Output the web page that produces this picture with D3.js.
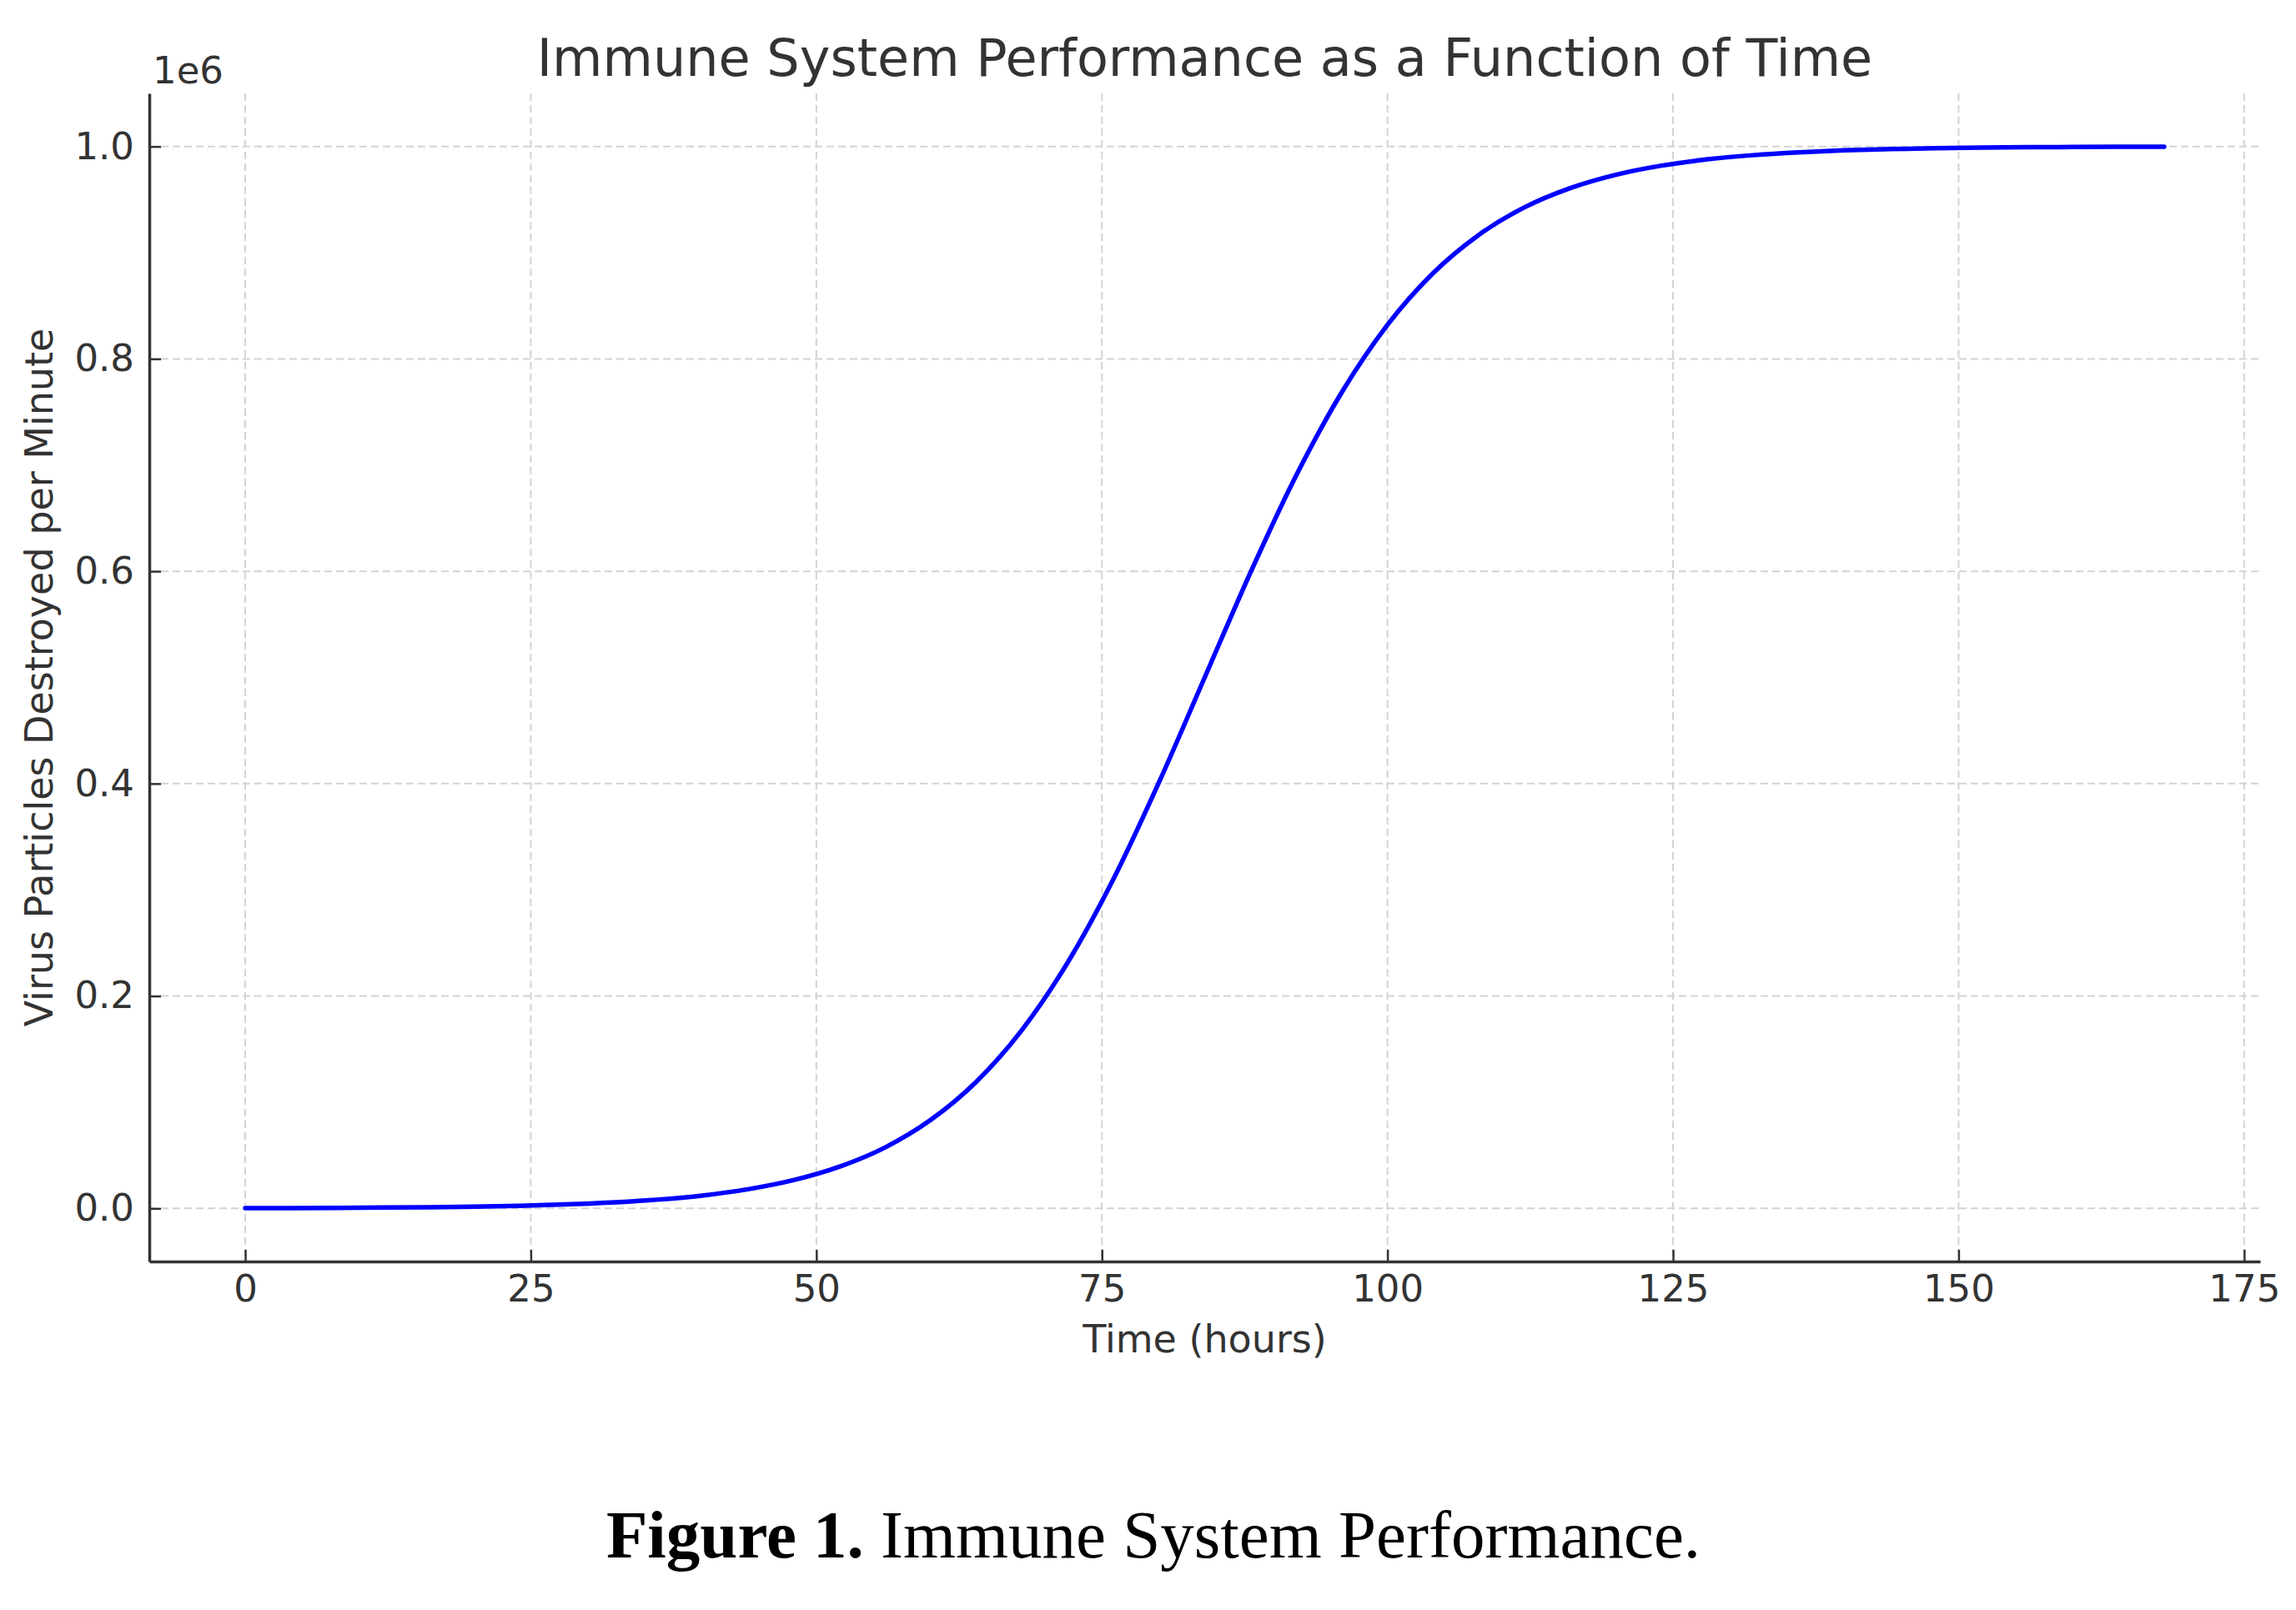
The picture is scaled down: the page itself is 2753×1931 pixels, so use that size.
<!DOCTYPE html>
<html>
<head>
<meta charset="utf-8">
<script src="https://cdn.jsdelivr.net/npm/d3@7"></script>
<style>
  body { margin: 0; background: #fff; }
  svg { display: block; }
  .tick text { font-family: "DejaVu Sans", sans-serif; font-size: 45px; fill: #333; }
</style>
</head>
<body>
<svg width="2753" height="1931"></svg>
<script>
  const hours = [0, 4, 8, 12, 16, 20, 24, 28, 32, 36, 40, 44, 48, 52, 56, 60, 64, 68, 72, 76, 80, 84,
                 88, 92, 96, 100, 104, 108, 112, 116, 120, 124, 128, 132, 136, 140, 144, 148, 152, 156, 160, 164, 168];
  const destroyed = [225, 335, 500, 746, 1110, 1660, 2470, 3690, 5500, 8200, 12100, 18000, 26600, 39200, 57300,
                     83200, 119200, 168000, 231500, 310000, 401300, 500000, 598700, 690000, 768500, 832000, 880800,
                     916800, 942700, 960800, 973400, 982000, 987900, 991800, 994500, 996400, 997500, 998300, 998900,
                     999300, 999500, 999700, 999800];
  const xTicks = [0, 25, 50, 75, 100, 125, 150, 175];
  const yTicks = [0, 200000, 400000, 600000, 800000, 1000000];

  const svg = d3.select("svg"),
        margin = {top: 112, right: 43, bottom: 418, left: 179},
        width = +svg.attr("width"),
        height = +svg.attr("height");

  const data = hours.map((h, i) => ({h, v: destroyed[i]}));

  // matplotlib-style 5% margins around the data
  const x = d3.scaleLinear()
    .domain([-8.4, 176.4])
    .range([margin.left, width - margin.right]);

  const y = d3.scaleLinear()
    .domain([-50000, 1050000])
    .range([height - margin.bottom, margin.top]);

  svg.append("rect").attr("width", width).attr("height", height).attr("fill", "#fff");

  // grid
  const grid = svg.append("g")
    .attr("stroke", "#d3d3d3")
    .attr("stroke-width", 2)
    .attr("stroke-dasharray", "9,5");

  grid.selectAll(".vgrid")
    .data(xTicks)
    .enter().append("line")
    .attr("x1", d => x(d)).attr("x2", d => x(d))
    .attr("y1", y.range()[1]).attr("y2", y.range()[0]);

  grid.selectAll(".hgrid")
    .data(yTicks)
    .enter().append("line")
    .attr("x1", x.range()[0]).attr("x2", x.range()[1])
    .attr("y1", d => y(d)).attr("y2", d => y(d));

  // curve
  const line = d3.line()
    .x(d => x(d.h))
    .y(d => y(d.v))
    .curve(d3.curveMonotoneX);

  svg.append("path")
    .datum(data)
    .attr("fill", "none")
    .attr("stroke", "#0000ff")
    .attr("stroke-width", 5.5)
    .attr("stroke-linecap", "round")
    .attr("d", line);

  // axes (ticks point inward)
  const xAxis = svg.append("g")
    .attr("transform", `translate(0,${height - margin.bottom})`)
    .call(d3.axisBottom(x).tickValues(xTicks).tickSizeInner(-14).tickSizeOuter(0).tickPadding(16));

  const yAxis = svg.append("g")
    .attr("transform", `translate(${margin.left},0)`)
    .call(d3.axisLeft(y).tickValues(yTicks).tickSizeInner(-14).tickSizeOuter(0).tickPadding(18)
      .tickFormat(d => d3.format(".1f")(d / 1e6)));

  [xAxis, yAxis].forEach(g => {
    g.select(".domain").attr("stroke", "#333").attr("stroke-width", 3.5);
    g.selectAll(".tick line").attr("stroke", "#333").attr("stroke-width", 2.5);
  });

  // texts
  svg.append("text")
    .attr("x", (x.range()[0] + x.range()[1]) / 2)
    .attr("y", 91)
    .attr("text-anchor", "middle")
    .style("font-family", "DejaVu Sans, sans-serif")
    .style("font-size", "62px")
    .style("fill", "#333")
    .text("Immune System Performance as a Function of Time");

  svg.append("text")
    .attr("x", 183)
    .attr("y", 100)
    .style("font-family", "DejaVu Sans, sans-serif")
    .style("font-size", "45px")
    .style("fill", "#333")
    .text("1e6");

  svg.append("text")
    .attr("x", (x.range()[0] + x.range()[1]) / 2)
    .attr("y", 1622)
    .attr("text-anchor", "middle")
    .style("font-family", "DejaVu Sans, sans-serif")
    .style("font-size", "46px")
    .style("fill", "#333")
    .text("Time (hours)");

  svg.append("text")
    .attr("transform", `translate(63,${(y.range()[0] + y.range()[1]) / 2}) rotate(-90)`)
    .attr("text-anchor", "middle")
    .style("font-family", "DejaVu Sans, sans-serif")
    .style("font-size", "46px")
    .style("fill", "#333")
    .text("Virus Particles Destroyed per Minute");

  const caption = svg.append("text")
    .attr("x", 1383)
    .attr("y", 1868)
    .attr("text-anchor", "middle")
    .style("font-family", "Liberation Serif, serif")
    .style("font-size", "81px")
    .style("fill", "#000");
  caption.append("tspan").style("font-weight", "bold").text("Figure 1.");
  caption.append("tspan").text(" Immune System Performance.");
</script>
</body>
</html>
